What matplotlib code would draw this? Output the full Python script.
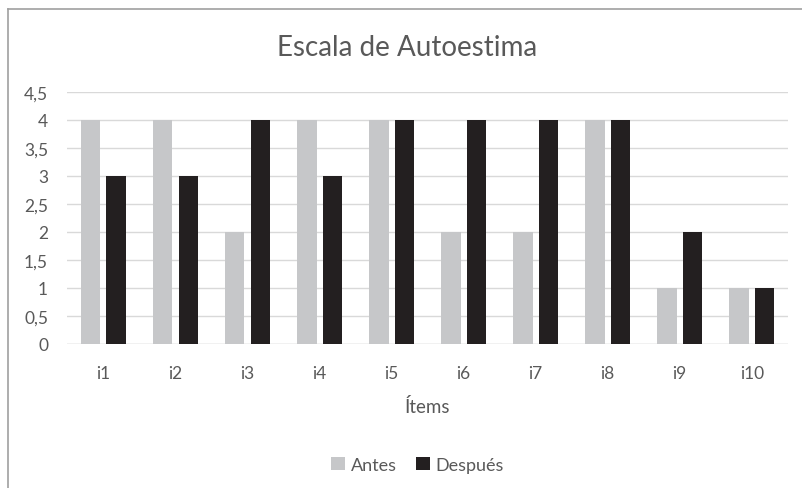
import numpy as np
import matplotlib.pyplot as plt
from matplotlib.lines import Line2D

items = ['i1', 'i2', 'i3', 'i4', 'i5', 'i6', 'i7', 'i8', 'i9', 'i10']
antes = [4, 4, 2, 4, 4, 2, 2, 4, 1, 1]
despues = [3, 3, 4, 3, 4, 4, 4, 4, 2, 1]
yticks = [0, 0.5, 1, 1.5, 2, 2.5, 3, 3.5, 4, 4.5]
ylabels = ['0', '0,5', '1', '1,5', '2', '2,5', '3', '3,5', '4', '4,5']

plt.rcParams['font.family'] = ['Lato', 'DejaVu Sans']
txt = '#595959'

fig = plt.figure(figsize=(8.03, 4.89), dpi=100)
ax = fig.add_axes([0.084, 0.2945, 0.897, 0.5155])

x = np.arange(len(items))
w = 0.27
ax.bar(x - 0.177, antes, w, color='#c6c7c9', label='Antes', zorder=3)
ax.bar(x + 0.177, despues, w, color='#231f20', label='Después', zorder=3)

ax.set_xlim(-0.5, len(items) - 0.5)
ax.set_ylim(0, 4.5)
ax.set_yticks(yticks)
ax.set_yticklabels(ylabels)
ax.set_xticks(x)
ax.set_xticklabels(items)
ax.tick_params(length=0, labelsize=12.5, colors=txt)
ax.tick_params(axis='y', pad=14)
ax.tick_params(axis='x', pad=15)
ax.grid(axis='y', color='#d9d9d9', linewidth=1, zorder=0)
for s in ax.spines.values():
    s.set_visible(False)
ax.axhline(0, color='#d9d9d9', linewidth=1, zorder=2)

ax.set_xlabel('Ítems', fontsize=13.5, color=txt, labelpad=12)
fig.text(0.507, 0.902, 'Escala de Autoestima', ha='center', va='center',
         fontsize=20, color=txt)
fig.legend(loc='center', bbox_to_anchor=(0.52, 0.048), ncol=2, frameon=False,
           fontsize=13, labelcolor=txt, handlelength=0.75, handleheight=0.75,
           handletextpad=0.3, columnspacing=1.1)

# chart border (top and left edges visible)
fig.add_artist(Line2D([8 / 803, 1], [1 - 10 / 489] * 2, color='#a0a0a0', lw=1.2))
fig.add_artist(Line2D([8 / 803] * 2, [0, 1 - 10 / 489], color='#a0a0a0', lw=1.2))

fig.savefig('out.png', dpi=100)
